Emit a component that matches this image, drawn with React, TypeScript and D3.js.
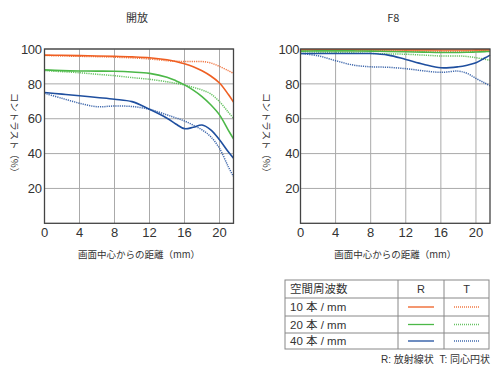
import React from "react";
import * as d3 from "d3";

const xTicks = [0, 4, 8, 12, 16, 20];
const yTicks = [20, 40, 60, 80, 100];

// 開放 (wide open)
const openX = [0, 2, 4, 6, 8, 10, 12, 14, 15, 16, 17, 18, 19, 20, 21, 21.6];
const openR10 = [96.5, 96.4, 96.2, 96.0, 95.8, 95.5, 95.0, 93.8, 92.8, 91.5, 89.8, 87.5, 84.5, 80.5, 74.0, 69.5];
const openT10 = [96.3, 96.0, 95.8, 95.6, 95.3, 94.9, 94.3, 93.3, 93.0, 92.8, 92.8, 92.8, 92.0, 90.0, 87.6, 86.0];
const openR20 = [88.0, 87.6, 87.4, 87.3, 87.2, 86.8, 86.0, 83.8, 81.8, 79.4, 76.4, 72.7, 68.0, 62.2, 53.5, 48.4];
const openT20 = [87.6, 87.0, 86.4, 85.5, 84.7, 83.6, 82.6, 81.2, 80.3, 79.4, 78.0, 76.5, 74.2, 69.8, 63.8, 60.3];
const openR40 = [75.0, 74.1, 73.2, 72.2, 71.2, 69.8, 65.4, 60.3, 57.0, 54.3, 55.1, 56.4, 53.6, 47.9, 41.0, 37.4];
const openT40 = [74.6, 71.7, 68.9, 66.9, 67.3, 67.0, 65.4, 62.2, 60.5, 58.7, 56.3, 53.6, 49.7, 43.0, 32.5, 26.8];

// F8
const f8X = [0, 2, 4, 6, 8, 10, 12, 14, 16, 18, 19, 20, 21, 21.6];
const f8R10 = [99.6, 99.6, 99.6, 99.6, 99.6, 99.6, 99.5, 99.5, 99.4, 99.4, 99.4, 99.5, 99.5, 99.6];
const f8T10 = [99.3, 99.2, 99.1, 99.0, 99.0, 98.9, 98.8, 98.6, 98.5, 98.6, 98.7, 98.8, 99.0, 99.1];
const f8R20 = [98.8, 98.9, 98.9, 98.9, 98.8, 98.6, 98.4, 98.2, 98.0, 98.0, 98.1, 98.3, 98.5, 98.6];
const f8T20 = [98.5, 98.2, 98.0, 97.8, 97.5, 97.2, 97.0, 96.5, 96.0, 96.0, 95.7, 95.0, 94.1, 93.6];
const f8R40 = [97.4, 97.4, 97.4, 97.4, 97.4, 96.5, 94.0, 91.3, 89.2, 89.8, 90.7, 92.1, 94.8, 96.5];
const f8T40 = [97.4, 96.1, 93.3, 90.8, 89.8, 89.5, 88.7, 87.5, 86.6, 87.3, 86.0, 83.1, 80.5, 78.9];

const legendRows = ["10 本 / mm", "20 本 / mm", "40 本 / mm"];
const colors = ["#ef5f22", "#4cb848", "#1f4f9f"];

const FONT = "'Liberation Sans', Arial, sans-serif";
const CJK = "'Noto Sans CJK JP', sans-serif";
const MIX = "'Liberation Sans', 'Noto Sans CJK JP', sans-serif";

type Panel = {
  title: string;
  left: number;
  right: number;
  xs: number[];
  R: number[][];
  T: number[][];
  labelGap: number;
  yLabelX: number;
};

function Chart({ p }: { p: Panel }) {
  const x = d3.scaleLinear().domain([0, 21.6]).range([p.left, p.right]);
  const y = d3.scaleLinear().domain([0, 100]).range([223.3, 49]);
  const line = d3
    .line<number>()
    .x((_, i) => x(p.xs[i]))
    .y((d) => y(d))
    .curve(d3.curveCatmullRom.alpha(0.5));
  const top = y(100);
  const bottom = y(0);
  const cx = (p.left + p.right) / 2;
  return (
    <g>
      <text x={cx - 2} y={22} textAnchor="middle" fontFamily={CJK} fontSize={11} fill="#333">
        {p.title}
      </text>
      {xTicks.map((t) => (
        <line key={"gx" + t} x1={x(t)} x2={x(t)} y1={top} y2={bottom} stroke="#aaa" strokeWidth={1} />
      ))}
      {yTicks.map((t) => (
        <line key={"gy" + t} x1={p.left} x2={p.right} y1={y(t)} y2={y(t)} stroke="#aaa" strokeWidth={1} />
      ))}
      {p.T.map((s, i) => (
        <path key={"t" + i} d={line(s) || ""} fill="none" stroke={colors[i]} strokeWidth={1.5} strokeDasharray="1.2 1" strokeOpacity={0.85} />
      ))}
      {p.R.map((s, i) => (
        <path key={"r" + i} d={line(s) || ""} fill="none" stroke={colors[i]} strokeWidth={1.6} />
      ))}
      <rect x={p.left} y={top} width={p.right - p.left} height={bottom - top} fill="none" stroke="#444" strokeWidth={1.3} />
      {yTicks.map((t) => (
        <text key={"yl" + t} x={p.left - p.labelGap} y={y(t)} dy="0.36em" textAnchor="end" fontFamily={FONT} fontSize={13} letterSpacing={-0.4} fill="#333">
          {t}
        </text>
      ))}
      {xTicks.map((t) => (
        <text key={"xl" + t} x={x(t)} y={237} textAnchor="middle" fontFamily={FONT} fontSize={13} fill="#333">
          {t}
        </text>
      ))}
      <text x={cx} y={258} textAnchor="middle" fontFamily={CJK} fontSize={9.5} fill="#333">
        画面中心からの距離（mm）
      </text>
      <text
        transform={`translate(${p.yLabelX},135) rotate(90)`}
        textAnchor="middle"
        dy="0.35em"
        fontFamily={CJK}
        fontSize={9.5}
        fill="#333"
      >
        コントラスト（%）
      </text>
    </g>
  );
}

export default function App() {
  const panels: Panel[] = [
    { title: "開放", left: 44.5, right: 233.5, xs: openX, R: [openR10, openR20, openR40], T: [openT10, openT20, openT40], labelGap: 3, yLabelX: 14 },
    { title: "F8", left: 300.5, right: 490, xs: f8X, R: [f8R10, f8R20, f8R40], T: [f8T10, f8T20, f8T40], labelGap: 1.5, yLabelX: 266 },
  ];
  const tl = 285, tr = 489, c1 = 398, c2 = 444;
  const rowsY = [280, 298, 316, 333, 349];
  return (
    <svg width={500} height={375} style={{ position: "absolute", left: 0, top: 0, background: "#fff" }}>
      {panels.map((p, i) => (
        <Chart key={i} p={p} />
      ))}
      <g>
        <rect x={tl} y={rowsY[0]} width={tr - tl} height={rowsY[4] - rowsY[0]} fill="none" stroke="#888" strokeWidth={1} />
        {rowsY.slice(1, 4).map((ry) => (
          <line key={ry} x1={tl} x2={tr} y1={ry} y2={ry} stroke="#888" strokeWidth={1} />
        ))}
        <line x1={c1} x2={c1} y1={rowsY[0]} y2={rowsY[4]} stroke="#888" />
        <line x1={c2} x2={c2} y1={rowsY[0]} y2={rowsY[4]} stroke="#888" />
        <text x={290} y={(rowsY[0] + rowsY[1]) / 2} dy="0.36em" fontFamily={CJK} fontSize={11.5} fill="#333">
          空間周波数
        </text>
        <text x={(c1 + c2) / 2} y={(rowsY[0] + rowsY[1]) / 2} dy="0.36em" textAnchor="middle" fontFamily={FONT} fontSize={11} fill="#333">
          R
        </text>
        <text x={(c2 + tr) / 2} y={(rowsY[0] + rowsY[1]) / 2} dy="0.36em" textAnchor="middle" fontFamily={FONT} fontSize={11} fill="#333">
          T
        </text>
        {legendRows.map((lbl, i) => {
          const cy = (rowsY[i + 1] + rowsY[i + 2]) / 2;
          return (
            <g key={lbl}>
              <text x={290} y={cy} dy="0.36em" fontFamily={MIX} fontSize={11.5} fill="#333" style={{ whiteSpace: "pre" }}>
                {lbl}
              </text>
              <line x1={408} x2={434} y1={cy} y2={cy} stroke={colors[i]} strokeWidth={1.3} />
              <line x1={454} x2={479} y1={cy} y2={cy} stroke={colors[i]} strokeWidth={1.3} strokeDasharray="1 1" strokeOpacity={0.85} />
            </g>
          );
        })}
        <text x={490} y={363} textAnchor="end" fontFamily={MIX} fontSize={10} fill="#333" style={{ whiteSpace: "pre" }}>
          {"R: 放射線状  T: 同心円状"}
        </text>
      </g>
    </svg>
  );
}
